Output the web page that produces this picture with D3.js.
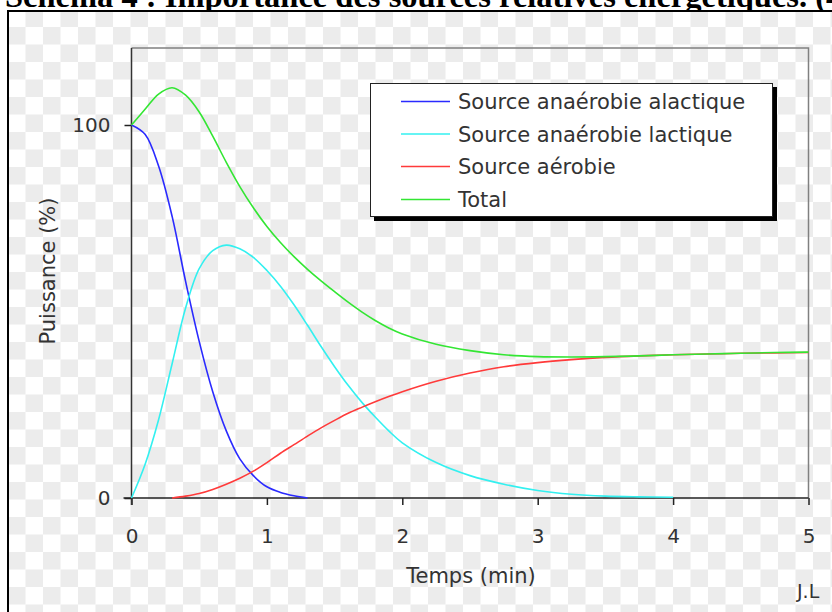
<!DOCTYPE html>
<html>
<head>
<meta charset="utf-8">
<script src="https://cdn.jsdelivr.net/npm/d3@7"></script>
<style>
body{margin:0;background:#fff;}
text{font-family:"DejaVu Sans",Verdana,sans-serif;fill:#333;}
</style>
</head>
<body>
<div id="chart"></div>
<script>
// time in minutes
var times = [0,0.1,0.2,0.3,0.4,0.5,0.6,0.7,0.8,0.9,1.0,1.1,1.2,1.3,1.4,1.5,1.6,1.7,1.8,1.9,2.0,
	2.25,2.5,2.75,3.0,3.25,3.5,3.75,4.0,4.25,4.5,4.75,5.0];

// power (%), null = not drawn
var alactique = [100,97.5,89,75.5,58,42,28.5,18,10.5,6,3,1.5,0.6,0,
	null,null,null,null,null,null,null,null,null,null,null,null,null,null,null,null,null,null,null];
var lactique = [0,9,21,36,51,61.5,66.3,67.8,66.8,64.5,61,56.8,51.8,46.3,40.6,35.2,30.2,25.7,21.7,18,14.8,
	9.5,6,3.7,2,1,0.5,0.3,0.2,null,null,null,null];
var aerobie = [null,null,null,0,0.5,1.2,2.3,3.7,5.3,7.2,9.5,12,14.3,16.6,18.8,20.8,22.7,24.3,25.8,27.2,28.5,
	31.3,33.5,35.2,36.3,37.1,37.7,38.1,38.4,38.6,38.8,38.9,39.0];
var total = [100,104.2,108.3,110,108,103.5,97,90,83.5,77.8,72.8,68.5,64.7,61.3,58.2,55.3,52.5,49.9,47.6,45.6,44.0,
	41.2,39.5,38.4,37.9,37.8,37.9,38.1,38.4,38.6,38.8,39,39.1];

var seriesNames = ["Source anaérobie alactique","Source anaérobie lactique","Source aérobie","Total"];
var seriesColors = ["#2a2aff","#33f0f0","#ff3a3a","#33e633"];
var xTicks = [0,1,2,3,4,5];
var yTicks = [0,100];

var w = 832, h = 612;

var svg = d3.select("#chart").append("svg")
	.attr("width", w)
	.attr("height", h);

var defs = svg.append("defs");

defs.append("clipPath")
	.attr("id", "titleClip")
	.append("rect")
	.attr("width", w)
	.attr("height", 10);

defs.append("clipPath")
	.attr("id", "frameClip")
	.append("rect")
	.attr("x", 8).attr("y", 11)
	.attr("width", w).attr("height", h);

//title, cut off at the top like the page it came from
svg.append("text")
	.attr("clip-path", "url(#titleClip)")
	.attr("x", 5)
	.attr("y", 7)
	.style("font-family", "'Liberation Serif','Times New Roman',serif")
	.style("font-weight", "bold")
	.style("font-size", "32.5px")
	.style("fill", "#000")
	.text("Schéma 4 : Importance des sources relatives énergétiques. (4)");

//checkerboard behind the picture
var sq = 17.5;
var cells = [];
d3.range(0, 48).forEach(function(c){
	d3.range(0, 36).forEach(function(r){
		if((c + r) % 2 == 1) cells.push([c, r]);
	});
});
svg.append("rect")
	.attr("x", 8).attr("y", 11)
	.attr("width", w).attr("height", h)
	.attr("fill", "#fff");
svg.append("g")
	.attr("clip-path", "url(#frameClip)")
	.selectAll("rect")
	.data(cells)
	.enter().append("rect")
	.attr("x", function(d){ return 8 + d[0] * sq; })
	.attr("y", function(d){ return 9.5 + d[1] * sq; })
	.attr("width", sq)
	.attr("height", sq)
	.attr("fill", "#ececec");
svg.append("rect")
	.attr("x", 8).attr("y", 11)
	.attr("width", w).attr("height", h)
	.attr("fill", "none")
	.attr("stroke", "#000")
	.attr("stroke-width", 2);

var plotLeft = 131.5, plotRight = 808.5, plotBottom = 498, plotTop = 48;

var x = d3.scaleLinear().domain([0, 5]).range([plotLeft, plotRight]);
var y = d3.scaleLinear().domain([0, 100]).range([plotBottom, 125]);

//plot frame
svg.append("path")
	.attr("d", "M" + plotLeft + "," + plotTop + "H" + plotRight + "V" + plotBottom)
	.attr("fill", "none")
	.attr("stroke", "#808080")
	.attr("stroke-width", 1.5);

var xAxis = svg.append("g")
	.attr("transform", "translate(0," + plotBottom + ")")
	.call(d3.axisBottom(x).tickValues(xTicks).tickFormat(d3.format("d")).tickSize(7).tickPadding(24));

var yAxis = svg.append("g")
	.attr("transform", "translate(" + plotLeft + ",0)")
	.call(d3.axisLeft(y).tickValues(yTicks).tickFormat(d3.format("d")).tickSize(7).tickPadding(14));

[xAxis, yAxis].forEach(function(a){
	a.select(".domain").remove();
	a.selectAll("line").attr("stroke", "#222").attr("stroke-width", 1.5);
	a.selectAll("text").style("font-family", "'DejaVu Sans',sans-serif").style("font-size", "20px").style("fill", "#333");
});

svg.append("line")
	.attr("x1", plotLeft - 8).attr("x2", plotRight)
	.attr("y1", plotBottom).attr("y2", plotBottom)
	.attr("stroke", "#222").attr("stroke-width", 1.5);
svg.append("line")
	.attr("x1", plotLeft).attr("x2", plotLeft)
	.attr("y1", plotTop).attr("y2", plotBottom + 7)
	.attr("stroke", "#333").attr("stroke-width", 1.5);

//curves
var allSeries = [alactique, lactique, aerobie, total];
var line = d3.line()
	.defined(function(d){ return d[1] != null; })
	.x(function(d){ return x(d[0]); })
	.y(function(d){ return y(d[1]); })
	.curve(d3.curveCatmullRom.alpha(0.5));

allSeries.forEach(function(s, i){
	var pts = times.map(function(t, j){ return [t, s[j]]; });
	svg.append("path")
		.attr("d", line(pts))
		.attr("fill", "none")
		.attr("stroke", seriesColors[i])
		.attr("stroke-width", 1.6);
});

//legend
var lg = svg.append("g");
lg.append("rect")
	.attr("x", 374).attr("y", 87)
	.attr("width", 403).attr("height", 134)
	.attr("fill", "#000");
lg.append("rect")
	.attr("x", 370.5).attr("y", 83.5)
	.attr("width", 402).attr("height", 133)
	.attr("fill", "#fff")
	.attr("stroke", "#222")
	.attr("stroke-width", 1);

var rowY = [101.5, 134, 166.5, 199.5];
seriesNames.forEach(function(n, i){
	lg.append("line")
		.attr("x1", 401).attr("x2", 450)
		.attr("y1", rowY[i]).attr("y2", rowY[i])
		.attr("stroke", seriesColors[i])
		.attr("stroke-width", 1.6);
	lg.append("text")
		.attr("x", 458)
		.attr("y", rowY[i])
		.attr("dy", "0.36em")
		.style("font-size", "21px")
		.text(n);
});

//axis titles
svg.append("text")
	.attr("x", 471)
	.attr("y", 583)
	.attr("text-anchor", "middle")
	.style("font-size", "21px")
	.text("Temps (min)");

svg.append("text")
	.attr("transform", "translate(55,271) rotate(-90)")
	.attr("text-anchor", "middle")
	.style("font-size", "21px")
	.text("Puissance (%)");

svg.append("text")
	.attr("x", 797)
	.attr("y", 598)
	.style("font-size", "19px")
	.text("J.L");
</script>
</body>
</html>
